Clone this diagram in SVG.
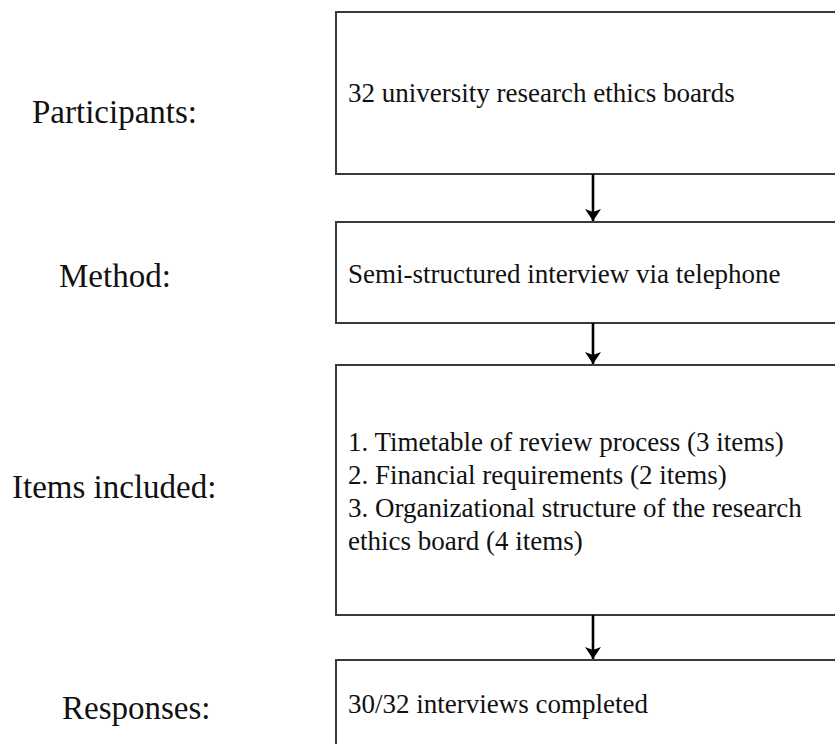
<svg xmlns="http://www.w3.org/2000/svg" width="835" height="744" viewBox="0 0 835 744">
<style>
.box{fill:#fff;stroke:#3a3a3a;stroke-width:2}
.lbl{font-family:"Liberation Serif","Times New Roman","DejaVu Serif",serif;font-size:33px;fill:#111}
.txt{font-family:"Liberation Serif","Times New Roman","DejaVu Serif",serif;font-size:27px;fill:#111}
.con{stroke:#000;stroke-width:2.6;fill:none}
</style>
<defs>
<marker id="ah" markerUnits="userSpaceOnUse" markerWidth="14" markerHeight="16" refX="13" refY="8" orient="auto" viewBox="0 0 14 16">
<path d="M1,0 L4,8 L1,16 L13,8 z" fill="#000"/>
</marker>
</defs>
<rect width="835" height="744" fill="#fff"/>
<g id="labels">
<text class="lbl" x="32" y="123">Participants:</text>
<text class="lbl" x="59" y="287">Method:</text>
<text class="lbl" x="12" y="498">Items included:</text>
<text class="lbl" x="62" y="719">Responses:</text>
</g>
<g id="node-participants">
<rect class="box" x="336" y="12" width="520" height="162"/>
<text class="txt" x="348" y="102">32 university research ethics boards</text>
</g>
<g id="node-method">
<rect class="box" x="336" y="222" width="520" height="101"/>
<text class="txt" x="348" y="283">Semi-structured interview via telephone</text>
</g>
<g id="node-items">
<rect class="box" x="336" y="365" width="520" height="250"/>
<text class="txt" x="348" y="451">1. Timetable of review process (3 items)</text>
<text class="txt" x="348" y="484">2. Financial requirements (2 items)</text>
<text class="txt" x="348" y="517">3. Organizational structure of the research</text>
<text class="txt" x="348" y="550">ethics board (4 items)</text>
</g>
<g id="node-responses">
<rect class="box" x="336" y="660" width="520" height="120"/>
<text class="txt" x="348" y="713">30/32 interviews completed</text>
</g>
<g id="connectors">
<line class="con" x1="593" y1="174" x2="593" y2="221" marker-end="url(#ah)"/>
<line class="con" x1="593" y1="323" x2="593" y2="364" marker-end="url(#ah)"/>
<line class="con" x1="593" y1="615" x2="593" y2="659" marker-end="url(#ah)"/>
</g>
</svg>
